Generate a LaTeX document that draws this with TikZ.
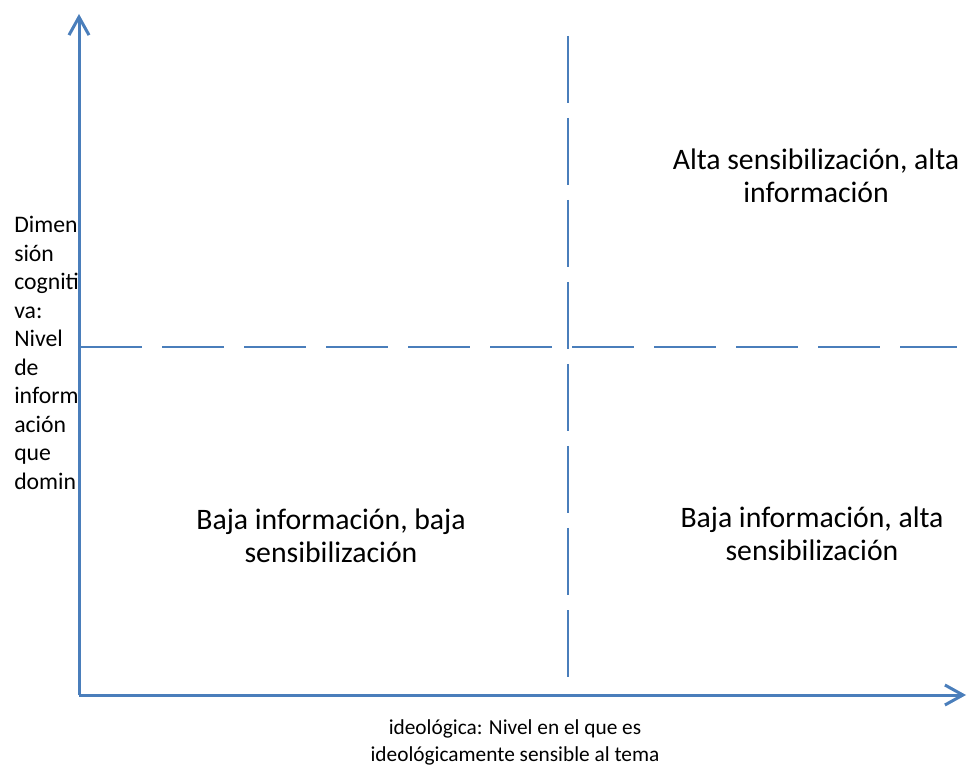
\documentclass[tikz,border=0pt]{standalone}
\usepackage{fontspec}
\setmainfont{Carlito}
\usetikzlibrary{arrows.meta, positioning}
\definecolor{axisblue}{RGB}{74,126,187}

\begin{document}
\begin{tikzpicture}[x=0.75pt, y=-0.75pt,
    axis/.style={axisblue, line width=2.25pt, -{Straight Barb[length=13.5pt, width=15pt]}},
    divider/.style={axisblue, line width=1.5pt},
    quadtext/.style={align=center, inner sep=0pt, font=\fontsize{22.3}{24.75}\selectfont},
    sidetext/.style={align=left, inner sep=0pt, font=\fontsize{17.8}{21.4}\selectfont},
    basetext/.style={align=center, inner sep=0pt, font=\fontsize{16}{20.25}\selectfont}]
			\useasboundingbox (0,0) rectangle (968,766);

			% Points of the axes and the dividers
			\coordinate (O) at (79,695);
			\coordinate (ytop) at (79,14);
			\coordinate (xend) at (966,695);
			\coordinate (hl) at (80,347);
			\coordinate (hr) at (957,347);
			\coordinate (vt) at (568,36);
			\coordinate (vb) at (568,680);

			% Label of the vertical axis
			\node[sidetext, anchor=north west] (ylabel) at (14,216) {Dimen\\sión\\cogniti\\va:\\Nivel\\de\\inform\\ación\\que\\domin};

			% Draw the axes
			\draw[axis] (O) -- (ytop);
			\draw[axis] (O) -- (xend);

			% Draw the dashed dividers
			\draw[divider, dash pattern=on 46.5pt off 15pt] (hl) -- (hr);
			\draw[divider, dash pattern=on 50.25pt off 11.25pt] (vt) -- (vb);

			% Text of the quadrants
			\node[quadtext] (qtr) at (816,176) {Alta sensibilización, alta\\información};
			\node[quadtext] (qbl) at (331,536) {Baja información, baja\\sensibilización};
			\node[quadtext] (qbr) at (812,534) {Baja información, alta\\sensibilización};

			% Label of the horizontal axis
			\node[basetext] (xlabel) at (515,742) {ideológica: Nivel en el que es\\ideológicamente sensible al tema};

		\end{tikzpicture}
\end{document}
